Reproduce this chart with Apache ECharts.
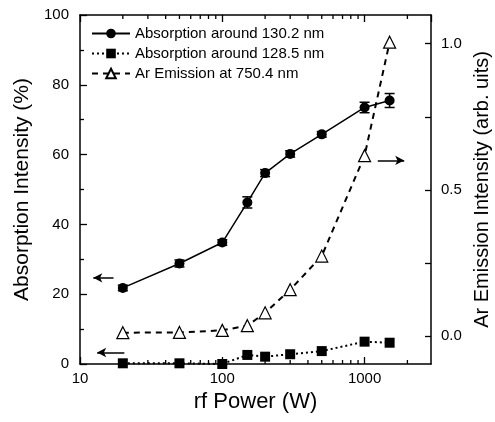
<!DOCTYPE html>
<html>
<head>
<meta charset="utf-8">
<script src="https://cdn.jsdelivr.net/npm/echarts@6/dist/echarts.min.js"></script>
<style>html,body{margin:0;padding:0;background:#fff}#c{width:495px;height:422px}</style>
</head>
<body>
<div id="c"></div>
<script>
// ---- data ----
const power = [20, 50, 100, 150, 200, 300, 500, 1000, 1500];
const abs1302 = [21.8, 28.8, 34.8, 46.3, 54.7, 60.2, 65.8, 73.5, 75.5];
const abs1302Err = [0.8, 1.0, 0.8, 1.6, 1.0, 0.9, 0.8, 1.5, 2.0];
const abs1285 = [0.2, 0.2, 0.0, 2.6, 2.1, 2.8, 3.7, 6.4, 6.1];
const arEmission = [0.012, 0.013, 0.02, 0.036, 0.08, 0.159, 0.274, 0.617, 1.005];
const xMinorTicks = [20, 30, 40, 50, 60, 70, 80, 90, 200, 300, 400, 500, 600, 700, 800, 900, 2000];
const rightLabels = [0, 0.5, 1.0];
const rightTicks = [0, 0.25, 0.5, 0.75, 1.0];
const names = ['Absorption around 130.2 nm', 'Absorption around 128.5 nm', 'Ar Emission at 750.4 nm'];

const FONT = 'Liberation Sans, Arial, Helvetica, sans-serif';
const X_MIN = 10, X_MAX = 2930;
const pair = (xs, ys) => xs.map((x, i) => [x, ys[i]]);

const chart = echarts.init(document.getElementById('c'), null, {renderer: 'canvas'});
const lineCol = '#000';
const axisLine = {show: true, onZero: false, lineStyle: {color: lineCol, width: 1.5}};
const arrowML = (from, to) => ({
  silent: true, symbol: ['none', 'arrow'], symbolSize: [7, 9], label: {show: false},
  lineStyle: {color: '#000', width: 1.5, type: 'solid'},
  data: [[{coord: from}, {coord: to}]]
});

const option = {
  animation: false,
  backgroundColor: '#fff',
  textStyle: {fontFamily: FONT},
  grid: {left: 80, right: 64, top: 15, bottom: 58, containLabel: false, outerBoundsMode: 'none'},
  legend: {
    orient: 'vertical', left: 86, top: 21, itemWidth: 38, itemHeight: 12, itemGap: 5,
    textStyle: {fontSize: 15, fontFamily: FONT, color: '#000'},
    data: names
  },
  xAxis: [
    {
      type: 'log', logBase: 10, min: X_MIN, max: X_MAX, position: 'bottom',
      axisLine: axisLine,
      axisTick: {show: true, inside: true, length: 7, lineStyle: {color: lineCol, width: 1.3}},
      axisLabel: {color: '#000', fontSize: 15, fontFamily: FONT, margin: 7, showMaxLabel: false,
        formatter: v => String(v)},
      splitLine: {show: false},
      name: 'rf Power (W)', nameLocation: 'middle', nameGap: 20,
      nameTextStyle: {fontSize: 22, fontFamily: FONT, color: '#000'}
    },
    {
      type: 'log', logBase: 10, min: X_MIN, max: X_MAX, position: 'top',
      axisLine: axisLine,
      axisTick: {show: true, inside: true, length: 7, lineStyle: {color: lineCol, width: 1.3}},
      axisLabel: {show: false},
      splitLine: {show: false}
    }
  ],
  yAxis: [
    {
      type: 'value', position: 'left', min: 0, max: 100, interval: 20,
      axisLine: axisLine,
      axisTick: {show: true, inside: true, length: 7, lineStyle: {color: lineCol, width: 1.3}},
      minorTick: {show: true, splitNumber: 2, length: 4, lineStyle: {color: lineCol, width: 1.3}},
      axisLabel: {color: '#000', fontSize: 15, fontFamily: FONT, margin: 11},
      splitLine: {show: false},
      name: 'Absorption Intensity (%)', nameLocation: 'middle', nameGap: 45,
      nameTextStyle: {fontSize: 21, fontFamily: FONT, color: '#000'}
    },
    {
      type: 'value', position: 'right', min: -0.095, max: 1.098,
      axisLine: axisLine,
      axisTick: {show: true, inside: true, length: 6, lineStyle: {color: lineCol, width: 1.3}, customValues: rightTicks},
      axisLabel: {color: '#000', fontSize: 15, fontFamily: FONT, margin: 10, customValues: rightLabels,
        formatter: v => v.toFixed(1)},
      splitLine: {show: false},
      name: 'Ar Emission Intensity (arb. uits)', nameLocation: 'middle', nameGap: 41,
      nameRotate: 90,
      nameTextStyle: {fontSize: 20, fontFamily: FONT, color: '#000'}
    }
  ],
  series: [
    {
      name: names[0], type: 'line', xAxisIndex: 0, yAxisIndex: 0,
      data: pair(power, abs1302), symbol: 'circle', symbolSize: 10,
      lineStyle: {color: '#000', width: 1.5}, itemStyle: {color: '#000'},
      markLine: arrowML([17.2, 24.7], [12.4, 24.7]),
      z: 3
    },
    {
      name: names[1], type: 'line', xAxisIndex: 0, yAxisIndex: 0,
      data: pair(power, abs1285), symbol: 'rect', symbolSize: 10,
      lineStyle: {color: '#000', width: 2, type: [2, 3]}, itemStyle: {color: '#000'},
      markLine: arrowML([20.5, 3.3], [13.2, 3.3]),
      z: 3
    },
    {
      name: names[2], type: 'line', xAxisIndex: 0, yAxisIndex: 1,
      data: pair(power, arEmission), symbol: 'triangle', symbolSize: 12,
      lineStyle: {color: '#000', width: 2, type: [6, 5]},
      itemStyle: {color: '#fff', borderColor: '#000', borderWidth: 1.2},
      markLine: arrowML([1238, 0.601], [1900, 0.601]),
      z: 3
    },
    {
      // error bars on the 130.2 nm absorption
      type: 'custom', xAxisIndex: 0, yAxisIndex: 0, silent: true, z: 4,
      data: power.map((p, i) => [p, abs1302[i] - abs1302Err[i], abs1302[i] + abs1302Err[i]]),
      renderItem: function (params, api) {
        const lo = api.coord([api.value(0), api.value(1)]);
        const hi = api.coord([api.value(0), api.value(2)]);
        const w = 5;
        const st = {stroke: '#000', lineWidth: 1.5};
        return {type: 'group', children: [
          {type: 'line', shape: {x1: lo[0], y1: lo[1], x2: hi[0], y2: hi[1]}, style: st},
          {type: 'line', shape: {x1: lo[0] - w, y1: lo[1], x2: lo[0] + w, y2: lo[1]}, style: st},
          {type: 'line', shape: {x1: hi[0] - w, y1: hi[1], x2: hi[0] + w, y2: hi[1]}, style: st}
        ]};
      }
    },
    {
      // minor log ticks on the bottom and top frame
      type: 'custom', xAxisIndex: 0, yAxisIndex: 0, silent: true, z: 5, clip: false,
      data: xMinorTicks.map(v => [v, 0]),
      renderItem: function (params, api) {
        const x = api.coord([api.value(0), 0])[0];
        const cs = params.coordSys;
        const len = 4;
        const st = {stroke: '#000', lineWidth: 1.3};
        return {type: 'group', children: [
          {type: 'line', shape: {x1: x, y1: cs.y + cs.height, x2: x, y2: cs.y + cs.height - len}, style: st},
          {type: 'line', shape: {x1: x, y1: cs.y, x2: x, y2: cs.y + len}, style: st}
        ]};
      }
    }
  ]
};
chart.setOption(option);
</script>
</body>
</html>
